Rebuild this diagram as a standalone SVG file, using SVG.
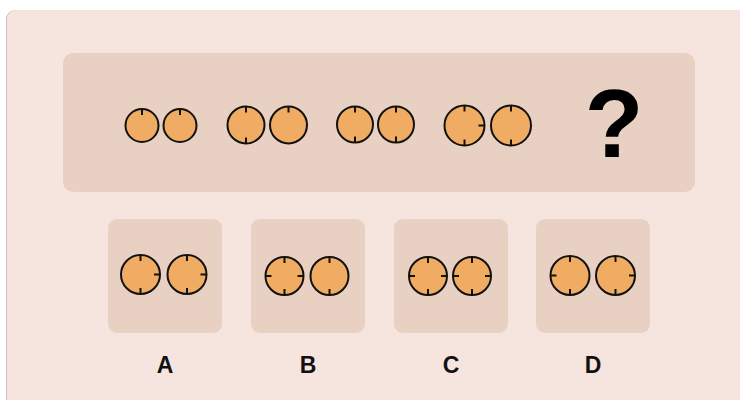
<svg xmlns="http://www.w3.org/2000/svg" width="740" height="400" viewBox="0 0 740 400">
<style>
.card{fill:#f6e5df}
.panel{fill:#e8d0c2}
.c{fill:#f0ac62;stroke:#111;stroke-width:2}
.t{stroke:#111;stroke-width:2;fill:none}
.lbl{font-family:"Liberation Sans",Arial,sans-serif;font-weight:bold;font-size:23px;fill:#111;text-anchor:middle}
.q{font-family:"Liberation Sans",Arial,sans-serif;font-weight:bold;font-size:96px;fill:#000;text-anchor:middle}
</style>
<rect x="0" y="0" width="740" height="400" fill="#ffffff"/>
<rect x="6" y="10" width="750" height="410" rx="9" fill="#cfc3bf"/>
<rect class="card" x="7" y="10" width="750" height="410" rx="9"/>
<g id="sequence-panel">
<rect class="panel" x="63" y="53" width="632" height="139" rx="10"/>
</g>
<g id="seq1">
<circle class="c" cx="142" cy="125.5" r="16.5"/><path class="t" d="M142 109v6"/>
<circle class="c" cx="180" cy="125.5" r="16.5"/><path class="t" d="M180 109v6"/>
</g>
<g id="seq2">
<circle class="c" cx="246" cy="125" r="18.5"/><path class="t" d="M246 106.5v6M246 143.5v-6"/>
<circle class="c" cx="288.5" cy="125" r="18.5"/><path class="t" d="M288.5 106.5v6"/>
</g>
<g id="seq3">
<circle class="c" cx="355" cy="124.5" r="18"/><path class="t" d="M355 106.5v6M355 142.5v-6"/>
<circle class="c" cx="396" cy="124.5" r="18"/><path class="t" d="M396 106.5v6M396 142.5v-6"/>
</g>
<g id="seq4">
<circle class="c" cx="464.5" cy="125.5" r="20"/><path class="t" d="M464.5 105.5v6M464.5 145.5v-6M484.5 125.5h-6"/>
<circle class="c" cx="511" cy="125.5" r="20"/><path class="t" d="M511 105.5v6M511 145.5v-6"/>
</g>
<g id="question">
<text class="q" x="614" y="157">?</text>
</g>
<g id="optionA">
<rect class="panel" x="108" y="219" width="114" height="114" rx="9"/>
<circle class="c" cx="140.5" cy="274.5" r="19.5"/><path class="t" d="M140.5 255v6M140.5 294v-6M160 274.5h-6"/>
<circle class="c" cx="187" cy="274.5" r="19.5"/><path class="t" d="M187 255v6M187 294v-6M206.5 274.5h-6"/>
<text class="lbl" x="165" y="373">A</text>
</g>
<g id="optionB">
<rect class="panel" x="251" y="219" width="114" height="114" rx="9"/>
<circle class="c" cx="284.5" cy="276" r="19"/><path class="t" d="M284.5 257v6M284.5 295v-6M265.5 276h6M303.5 276h-6"/>
<circle class="c" cx="329.5" cy="276" r="19"/><path class="t" d="M329.5 257v6M329.5 295v-6"/>
<text class="lbl" x="308" y="373">B</text>
</g>
<g id="optionC">
<rect class="panel" x="394" y="219" width="114" height="114" rx="9"/>
<circle class="c" cx="428" cy="276" r="19"/><path class="t" d="M428 257v6M428 295v-6M409 276h6M447 276h-6"/>
<circle class="c" cx="472" cy="276" r="19"/><path class="t" d="M472 257v6M472 295v-6M453 276h6M491 276h-6"/>
<text class="lbl" x="451" y="373">C</text>
</g>
<g id="optionD">
<rect class="panel" x="536" y="219" width="114" height="114" rx="9"/>
<circle class="c" cx="570" cy="275.5" r="19.5"/><path class="t" d="M570 256v6M570 295v-6M550.5 275.5h6"/>
<circle class="c" cx="615.5" cy="275.5" r="19.5"/><path class="t" d="M615.5 256v6M615.5 295v-6M635 275.5h-6"/>
<text class="lbl" x="593" y="373">D</text>
</g>
<g id="connectors"/>
</svg>
